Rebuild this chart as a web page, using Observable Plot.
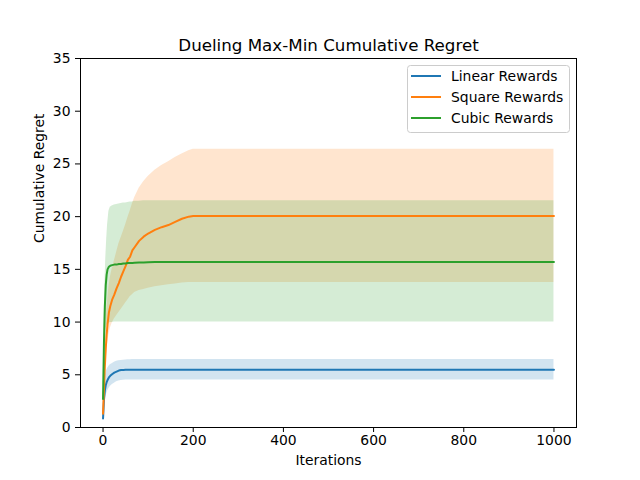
<!DOCTYPE html>
<html><head><meta charset="utf-8">
<script src="https://cdn.jsdelivr.net/npm/d3@7"></script>
<script src="https://cdn.jsdelivr.net/npm/@observablehq/plot@0.6"></script>
<style>body{margin:0;background:#fff} svg{display:block}</style>
</head><body><div id="chart"></div>
<script>
const iterations = [0,2,4,6,8,10,13,16,20,25,30,35,40,45,50,55,60,65,70,80,90,100,115,130,145,160,175,190,200,250,300,400,500,600,700,800,900,1000];

const linearMean = [0.85,2.6,3.5,4.0,4.3,4.5,4.75,4.9,5.05,5.2,5.3,5.4,5.45,5.45,5.47,
  5.47,5.47,5.47,5.47,5.47,5.47,5.47,5.47,5.47,5.47,5.47,5.47,5.47,5.47,5.47,5.47,5.47,5.47,5.47,5.47,5.47,5.47,5.47];
const linearUpper = [0.9,3.2,4.6,5.1,5.4,5.6,5.8,5.95,6.05,6.2,6.28,6.33,6.36,6.38,6.4,
  6.42,6.43,6.45,6.45,6.45,6.45,6.45,6.45,6.45,6.45,6.45,6.45,6.45,6.45,6.45,6.45,6.45,6.45,6.45,6.45,6.45,6.45,6.45];
const linearLower = [0.8,2.0,2.5,2.9,3.2,3.45,3.7,3.9,4.05,4.2,4.35,4.42,4.46,4.48,4.5,
  4.5,4.5,4.5,4.5,4.5,4.5,4.5,4.5,4.5,4.5,4.5,4.5,4.5,4.5,4.5,4.5,4.5,4.5,4.5,4.5,4.5,4.5,4.5];

const squareMean = [1.3,3.5,5.8,7.5,8.8,9.8,10.9,11.5,12.1,12.6,13.2,13.7,14.3,14.8,15.3,15.9,16.2,16.8,17.1,17.7,18.1,18.4,18.75,19.0,19.2,19.5,19.8,20.0,20.05,
  20.05,20.05,20.05,20.05,20.05,20.05,20.05,20.05,20.05];
const squareUpper = [1.5,4.8,7.5,9.3,10.8,12,13.3,14.2,15,15.8,16.6,17.4,18,18.6,19.2,19.9,20.5,21.2,21.8,22.7,23.3,23.8,24.4,24.85,25.2,25.6,25.95,26.25,26.4,
  26.4,26.4,26.4,26.4,26.4,26.4,26.4,26.4,26.4];
const squareLower = [1.1,2.5,4.3,5.8,7.0,7.9,8.8,9.4,9.9,10.3,10.6,10.9,11.2,11.5,11.8,12.1,12.4,12.6,12.8,13.0,13.1,13.2,13.35,13.45,13.55,13.6,13.7,13.75,13.75,
  13.75,13.75,13.75,13.75,13.75,13.75,13.75,13.75,13.75];

const cubicMean = [2.7,8.0,11.5,13.5,14.5,15.0,15.25,15.35,15.4,15.45,15.45,15.5,15.5,15.55,15.55,15.6,15.6,15.6,15.62,15.65,15.65,15.68,
  15.7,15.7,15.7,15.7,15.7,15.7,15.7,15.7,15.7,15.7,15.7,15.7,15.7,15.7,15.7,15.7];
const cubicUpper = [3.0,9.5,13.5,16.0,17.8,19.2,20.5,20.9,21.0,21.1,21.15,21.2,21.25,21.3,21.3,21.35,21.4,21.4,21.45,21.45,21.5,
  21.5,21.5,21.5,21.5,21.5,21.5,21.5,21.5,21.5,21.5,21.5,21.5,21.5,21.5,21.5,21.5,21.5];
const cubicLower = [2.5,6.0,8.3,9.2,9.6,9.8,9.9,9.95,9.95,
  10,10,10,10,10,10,10,10,10,10,10,10,10,10,10,10,10,10,10,10,10,10,10,10,10,10,10,10,10];

const seriesNames = ["Linear Rewards","Square Rewards","Cubic Rewards"];
const seriesColors = ["#1f77b4","#ff7f0e","#2ca02c"];
const xTicks = [0,200,400,600,800,1000];
const yTicks = [0,5,10,15,20,25,30,35];
const titleText = "Dueling Max-Min Cumulative Regret";
const xLabel = "Iterations";
const yLabel = "Cumulative Regret";

const seriesData = [
  [linearMean, linearLower, linearUpper],
  [squareMean, squareLower, squareUpper],
  [cubicMean, cubicLower, cubicUpper]
];
const tables = seriesData.map(([m, lo, hi], s) =>
  iterations.map((x, i) => ({x, mean: m[i], lo: lo[i], hi: hi[i], series: seriesNames[s]})));

const bands = tables.map((t, s) => Plot.areaY(t, {x: "x", y1: "lo", y2: "hi", fill: seriesColors[s], fillOpacity: 0.2}));
const lines = tables.map((t, s) => Plot.line(t, {x: "x", y: "mean", stroke: seriesColors[s], strokeWidth: 2}));

const FS = 13.9;
const svg = Plot.plot({
  width: 640,
  height: 480,
  marginLeft: 80,
  marginRight: 64,
  marginTop: 58,
  marginBottom: 53,
  style: {fontFamily: "DejaVu Sans", fontSize: FS + "px", color: "black", background: "white"},
  x: {domain: [-50, 1050]},
  y: {domain: [0, 35]},
  marks: [
    ...bands,
    ...lines,
    Plot.frame({stroke: "black", strokeWidth: 1}),
    Plot.axisX({ticks: xTicks, tickSize: 5, tickPadding: 3, fontSize: FS, label: null, tickFormat: d => String(d)}),
    Plot.axisY({ticks: yTicks, tickSize: 5, tickPadding: 5, fontSize: FS, label: null, tickFormat: d => String(d)}),
    Plot.text([titleText], {text: d => d, frameAnchor: "top", dy: -19, fontSize: 16.7, fill: "black"}),
    Plot.text([xLabel], {text: d => d, frameAnchor: "bottom", dy: 37, fontSize: FS, fill: "black"}),
    Plot.text([yLabel], {text: d => d, frameAnchor: "left", dx: -41, rotate: -90, fontSize: FS, fill: "black"})
  ]
});

const g = d3.select(svg).append("g").attr("font-family", "DejaVu Sans").attr("font-size", FS).attr("text-anchor", "start");
g.append("rect").attr("x", 407.5).attr("y", 65.5).attr("width", 162).attr("height", 67)
  .attr("rx", 3).attr("fill", "white").attr("fill-opacity", 0.8).attr("stroke", "#cccccc");
seriesNames.forEach((name, i) => {
  const yy = 76 + i * 21;
  g.append("line").attr("x1", 411).attr("x2", 441).attr("y1", yy).attr("y2", yy)
    .attr("stroke", seriesColors[i]).attr("stroke-width", 2);
  g.append("text").attr("x", 451).attr("y", yy).attr("dy", "0.35em").attr("text-anchor", "start").attr("fill", "black").text(name);
});

document.getElementById("chart").appendChild(svg);
</script>
</body></html>
